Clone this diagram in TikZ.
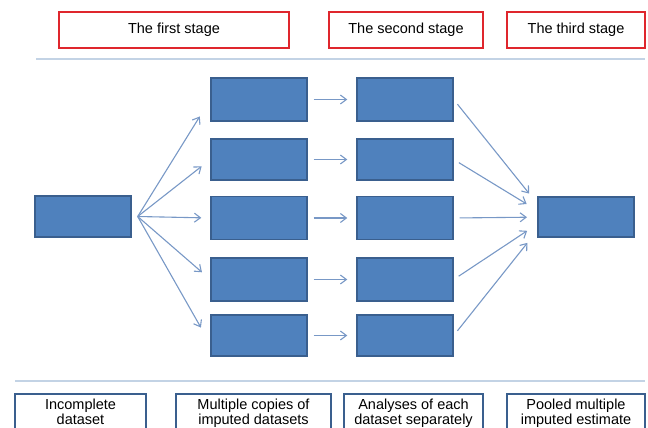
\documentclass[tikz,border=0pt]{standalone}
\usepackage{fontspec}
\setmainfont{Liberation Sans}
\usetikzlibrary{arrows.meta}
\definecolor{boxblue}{HTML}{4F81BD}
\definecolor{boxedge}{HTML}{3A5F8E}
\definecolor{arrowblue}{HTML}{7898C6}
\definecolor{rulegrey}{HTML}{C3D3E5}
\definecolor{stagered}{HTML}{DF262D}

\begin{document}
\begin{tikzpicture}[x=1pt,y=-1pt,
  stagebox/.style={draw=stagered, line width=2.4pt, minimum height=36pt, inner sep=0pt,
    font=\fontsize{14.5}{15}\selectfont},
  descbox/.style={draw=boxedge, line width=2.2pt, anchor=north, inner xsep=0pt, inner ysep=5pt,
    align=center, font=\fontsize{14.5}{13.5}\selectfont},
  blk/.style={draw=boxedge, fill=boxblue, line width=1.4pt, minimum width=96pt, inner sep=0pt},
  link/.style={draw=arrowblue, line width=1.1pt, -{Straight Barb[length=6pt,width=9pt]}},
  sep/.style={draw=rulegrey, line width=1.4pt}]
\useasboundingbox (0,0) rectangle (648,428);
\clip (0,0) rectangle (648,428);

% stages
\node [stagebox, minimum width=230pt] (s1) at (174,30) {The first stage};
\node [stagebox, minimum width=154pt] (s2) at (406,30) {The second stage};
\node [stagebox, minimum width=138pt] (s3) at (576,30) {The third stage};
\draw [sep] (36,59) -- (645,59);

% data flow
\node [blk, minimum height=41pt] (src) at (83,216.5) {};
\node [blk, minimum height=40pt] (res) at (586,217) {};
\coordinate (fan) at ([xshift=6pt]src.east);
\coordinate (join) at (548,217);
\foreach \i/\y/\h in {1/99.5/43, 2/159.5/41, 3/218/43, 4/279.5/43, 5/335.5/41}{
  \node [blk, minimum height=\h pt] (a\i) at (259,\y) {};
  \node [blk, minimum height=\h pt] (b\i) at (405,\y) {};
  \draw [link, shorten <=6pt, shorten >=9pt] (a\i) -- (b\i);
}
\foreach \i/\t/\s in {1/west/20, 2/west/11, 3/west/9, 4/west/11, 5/190/19}
  \draw [link, shorten >=\s pt] (fan) -- (a\i.\t);
\foreach \i/\s in {1/30, 2/25, 3/21, 4/25, 5/33}
  \draw [link, shorten <=6pt, shorten >=\s pt] (b\i.east) -- (join);

% descriptions
\draw [sep] (15,381) -- (645,381);
\node [descbox, minimum width=131pt] (d1) at (80.5,393) {Incomplete\\dataset};
\node [descbox, minimum width=155pt] (d2) at (253.5,393) {Multiple copies of\\imputed datasets};
\node [descbox, minimum width=139pt] (d3) at (413.5,393) {Analyses of each\\dataset separately};
\node [descbox, minimum width=138pt] (d4) at (576,393) {Pooled multiple\\imputed estimate};
\end{tikzpicture}
\end{document}
